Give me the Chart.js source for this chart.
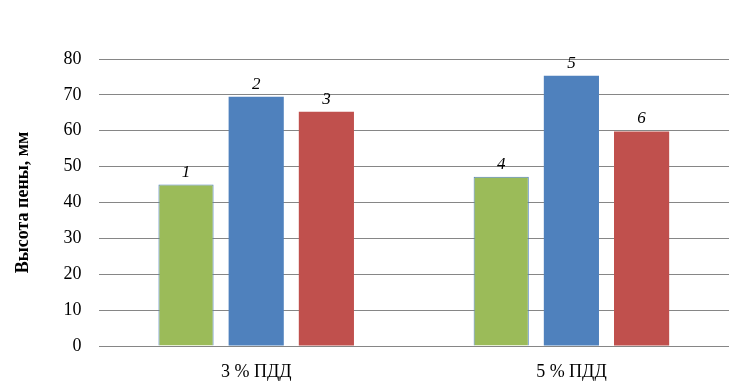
<!DOCTYPE html>
<html>
<head>
<meta charset="utf-8">
<script src="https://cdn.jsdelivr.net/npm/chart.js@4"></script>
<style>
  body { margin: 0; background: #fff; }
</style>
</head>
<body>
<canvas id="myChart" width="751" height="388"></canvas>
<script>
// chart data
const categories = ['3 % ПДД', '5 % ПДД'];
const greenValues = [45, 47.2];
const blueValues = [69.5, 75.3];
const redValues = [65.3, 59.8];
const greenNumbers = ['1', '4'];
const blueNumbers = ['2', '5'];
const redNumbers = ['3', '6'];
const yTicks = [0, 10, 20, 30, 40, 50, 60, 70, 80];

const serif = '"Liberation Serif", "Times New Roman", serif';

// draw the little italic numbers above each bar
const barNumbers = {
  id: 'barNumbers',
  afterDatasetsDraw(chart) {
    let ctx = chart.ctx;
    ctx.save();
    ctx.font = 'italic 17px ' + serif;
    ctx.fillStyle = '#000';
    ctx.textAlign = 'center';
    ctx.textBaseline = 'bottom';
    chart.data.datasets.forEach((ds, i) => {
      let meta = chart.getDatasetMeta(i);
      meta.data.forEach((bar, j) => {
        ctx.fillText(ds.numbers[j], bar.x, bar.y - 4);
      });
    });
    ctx.restore();
  }
};

let ctx = document.getElementById('myChart').getContext('2d');
let myChart = new Chart(ctx, {
  type: 'bar',
  data: {
    labels: categories,
    datasets: [
      {
        data: greenValues,
        numbers: greenNumbers,
        backgroundColor: '#9BBB59',
        borderColor: '#4F81BD',
        borderWidth: 1
      },
      {
        data: blueValues,
        numbers: blueNumbers,
        backgroundColor: '#4F81BD',
        borderWidth: 0
      },
      {
        data: redValues,
        numbers: redNumbers,
        backgroundColor: '#C0504D',
        borderWidth: 0
      }
    ]
  },
  options: {
    responsive: false,
    animation: false,
    devicePixelRatio: 1,
    categoryPercentage: 0.668,
    barPercentage: 0.786,
    layout: {
      padding: { top: 59, right: 22, bottom: 0, left: 13 }
    },
    plugins: {
      legend: { display: false },
      tooltip: { enabled: false }
    },
    scales: {
      x: {
        grid: { display: false, drawTicks: false },
        border: { display: false },
        afterFit: axis => {
          axis.height = 42;
        },
        ticks: {
          color: '#000',
          padding: 15,
          font: { family: serif, size: 18 }
        }
      },
      y: {
        min: 0,
        max: 80,
        afterBuildTicks: axis => {
          axis.ticks = yTicks.map(v => ({ value: v }));
        },
        grid: { color: '#868686', drawTicks: false },
        border: { display: false },
        ticks: {
          color: '#000',
          padding: 17,
          font: { family: serif, size: 18 }
        },
        title: {
          display: true,
          text: 'Высота пены, мм',
          color: '#000',
          padding: { top: 0, bottom: 12 },
          font: { family: serif, size: 18, weight: 'bold' }
        }
      }
    }
  },
  plugins: [barNumbers]
});
</script>
</body>
</html>
